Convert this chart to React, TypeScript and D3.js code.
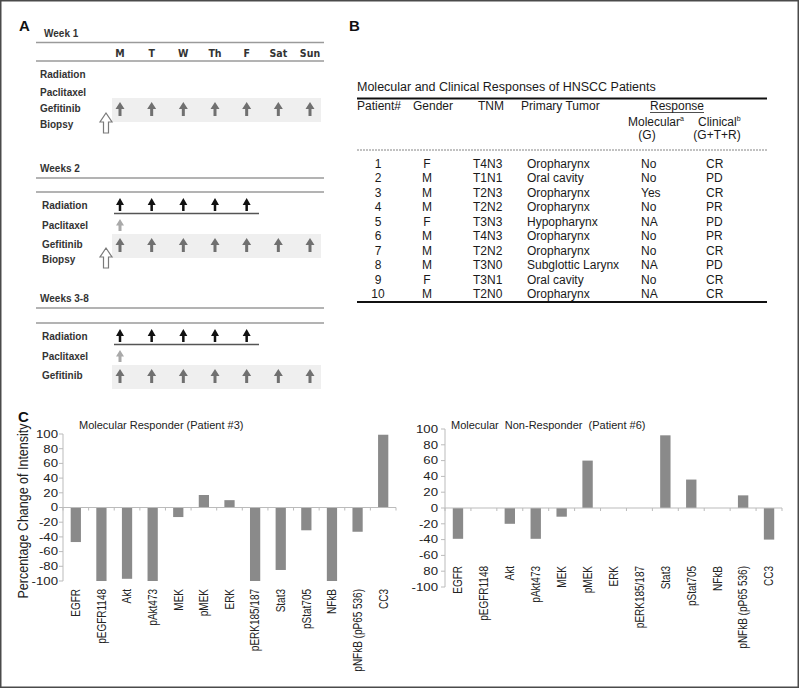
import React from "react";
import * as d3 from "d3";

// ---------- Panel A data ----------
const days = ["M", "T", "W", "Th", "F", "Sat", "Sun"];
const weekLabels = ["Week 1", "Weeks 2", "Weeks 3-8"];
const radiationDays = [[], ["M", "T", "W", "Th", "F"], ["M", "T", "W", "Th", "F"]];
const paclitaxelDays = [[], ["M"], ["M"]];
const gefitinibDays = [days, days, days];
const biopsyWeeks = [true, true, false];

// ---------- Panel B data ----------
const tableTitle = "Molecular and Clinical Responses of HNSCC Patients";
const patientIds = ["1", "2", "3", "4", "5", "6", "7", "8", "9", "10"];
const genders = ["F", "M", "M", "M", "F", "M", "M", "M", "F", "M"];
const tnmStages = ["T4N3", "T1N1", "T2N3", "T2N2", "T3N3", "T4N3", "T2N2", "T3N0", "T3N1", "T2N0"];
const primaryTumors = ["Oropharynx", "Oral cavity", "Oropharynx", "Oropharynx", "Hypopharynx", "Oropharynx", "Oropharynx", " Subglottic Larynx", "Oral cavity", "Oropharynx"];
const molecularResponses = ["No", "No", "Yes", "No", "NA", "No", "No", " NA", "No", " NA"];
const clinicalResponses = ["CR", "PD", "CR", "PR", "PD", "PR", "CR", "PD", "CR", "CR"];

// ---------- Panel C data ----------
const markers = ["EGFR", "pEGFR1148", "Akt", "pAkt473", "MEK", "pMEK", "ERK", "pERK185/187", "Stat3", "pStat705", "NFkB", "pNFkB (pP65 536)", "CC3"];
const responderValues = [-47, -100, -97, -100, -13, 17, 10, -100, -85, -31, -100, -33, 99];
const nonResponderValues = [-39, 0, -20, -39, -11, 60, 0, 0, 92, 36, 0, 16, -40];
const yTickValues = [100, 80, 60, 40, 20, 0, -20, -40, -60, -80, -100];
const yTickLabelsLeft = ["100", "80", "60", "40", "20", "0", "-20", "-40", "-60", "-80", "-100"];
const yTickLabelsRight = ["100", "80", "60", "40", "20", "0", "-20", "-40", "-60", "80", "-100"];

const FONT = "'Liberation Sans', Arial, Helvetica, sans-serif";
const NARROW = "'Liberation Sans Narrow', 'DejaVu Sans Condensed', 'Liberation Sans', Arial, sans-serif";

function arrowPath(cx: number, top: number, bottom: number, hw: number, hh: number, sw: number) {
  return `M${cx},${top}L${cx + hw / 2},${top + hh}L${cx + sw / 2},${top + hh}L${cx + sw / 2},${bottom}L${cx - sw / 2},${bottom}L${cx - sw / 2},${top + hh}L${cx - hw / 2},${top + hh}Z`;
}

const dayX = d3.scalePoint<string>().domain(days).range([120, 310]);

// layout per week block
const weekLayout = [
  { labelX: 44, labelY: 37, lines: [42.5, 61], dayRowY: 57, rad: 78, pac: 96, gef: 112, bio: 128, labX: 40 },
  { labelX: 40, labelY: 172, lines: [178, 192], dayRowY: null, rad: 209, pac: 229, gef: 248, bio: 263, labX: 42 },
  { labelX: 40, labelY: 302, lines: [308, 323], dayRowY: null, rad: 340, pac: 360, gef: 379, bio: 0, labX: 42 },
];

function PanelA() {
  return (
    <g>
      <text x={19} y={31} fontFamily={FONT} fontWeight="bold" fontSize={15} fill="#111">A</text>
      {weekLabels.map((wl, wi) => {
        const L = weekLayout[wi];
        return (
          <g key={wl}>
            <text x={L.labelX} y={L.labelY} fontFamily={FONT} fontWeight="bold" fontSize={10} fill="#333">{wl}</text>
            {L.lines.map((ly, i) => (
              <line key={i} x1={36} x2={324} y1={ly} y2={ly} stroke="#9a9a9a" strokeWidth={1.5} />
            ))}
            {L.dayRowY !== null && days.map((d) => (
              <text key={d} x={dayX(d)} y={L.dayRowY as number} textAnchor="middle" fontFamily={NARROW} fontWeight="bold" fontSize={10.5} fill="#333">{d}</text>
            ))}
            <text x={L.labX} y={L.rad} fontFamily={FONT} fontWeight="bold" fontSize={10} fill="#333">Radiation</text>
            <text x={L.labX} y={L.pac} fontFamily={FONT} fontWeight="bold" fontSize={10} fill="#333">Paclitaxel</text>
            <rect x={112} y={L.gef - 14} width={209} height={24} fill="#efefef" />
            <text x={L.labX} y={L.gef} fontFamily={FONT} fontWeight="bold" fontSize={10} fill="#333">Gefitinib</text>
            {biopsyWeeks[wi] && (
              <text x={L.labX} y={L.bio} fontFamily={FONT} fontWeight="bold" fontSize={10} fill="#333">Biopsy</text>
            )}
            {radiationDays[wi].map((d) => (
              <path key={"r" + d} d={arrowPath(dayX(d) as number, L.rad - 11, L.rad + 2, 8, 7, 2.5)} fill="#111" />
            ))}
            {radiationDays[wi].length > 0 && (
              <line x1={114} x2={259} y1={L.rad + 4.5} y2={L.rad + 4.5} stroke="#555" strokeWidth={1.3} />
            )}
            {paclitaxelDays[wi].map((d) => (
              <path key={"p" + d} d={arrowPath(dayX(d) as number, L.pac - 10, L.pac + 2, 8, 6.5, 3)} fill="#a9a9a9" />
            ))}
            {gefitinibDays[wi].map((d) => (
              <path key={"g" + d} d={arrowPath(dayX(d) as number, L.gef - 10, L.gef + 4, 9, 7, 3)} fill="#707070" />
            ))}
            {biopsyWeeks[wi] && (
              <path d={arrowPath(106, L.bio - 15, L.bio + 5, 12, 9, 5)} fill="#fff" stroke="#7a7a7a" strokeWidth={1.2} />
            )}
          </g>
        );
      })}
    </g>
  );
}

function PanelB() {
  const rowY = (i: number) => 168 + i * 14.44;
  const fs = 12;
  return (
    <g fontFamily={FONT} fill="#1a1a1a" style={{ whiteSpace: "pre" }}>
      <text x={349} y={31} fontWeight="bold" fontSize={15} fill="#111">B</text>
      <text x={357} y={91} fontSize={12.5}>{tableTitle}</text>
      <line x1={357} x2={767} y1={98.5} y2={98.5} stroke="#111" strokeWidth={2} />
      <text x={357} y={110} fontSize={fs}>Patient#</text>
      <text x={413} y={110} fontSize={fs}>Gender</text>
      <text x={478} y={110} fontSize={fs}>TNM</text>
      <text x={521} y={110} fontSize={fs}>Primary Tumor</text>
      <text x={677} y={110} fontSize={fs} textAnchor="middle">Response</text>
      <line x1={650} x2={704} y1={112.5} y2={112.5} stroke="#222" strokeWidth={0.8} />
      <text x={628} y={125.5} fontSize={fs}>Molecular<tspan fontSize={7} dy={-4.5}>a</tspan></text>
      <text x={698} y={125.5} fontSize={fs}>Clinical<tspan fontSize={7} dy={-4.5}>b</tspan></text>
      <text x={647} y={139} fontSize={fs} textAnchor="middle">(G)</text>
      <text x={717} y={139} fontSize={fs} textAnchor="middle">(G+T+R)</text>
      <line x1={357} x2={767} y1={150} y2={150} stroke="#666" strokeWidth={0.8} strokeDasharray="2,1" />
      {patientIds.map((p, i) => (
        <g key={p}>
          <text x={378} y={rowY(i)} fontSize={fs} textAnchor="middle">{p}</text>
          <text x={427} y={rowY(i)} fontSize={fs} textAnchor="middle">{genders[i]}</text>
          <text x={473} y={rowY(i)} fontSize={fs}>{tnmStages[i]}</text>
          <text x={527} y={rowY(i)} fontSize={fs}>{primaryTumors[i]}</text>
          <text x={641} y={rowY(i)} fontSize={fs}>{molecularResponses[i]}</text>
          <text x={706} y={rowY(i)} fontSize={fs}>{clinicalResponses[i]}</text>
        </g>
      ))}
      <line x1={357} x2={767} y1={302} y2={302} stroke="#111" strokeWidth={2} />
    </g>
  );
}

function BarChart(props: {
  values: number[];
  tickLabels: string[];
  x0: number;
  x1: number;
  yTop: number;
  yBottom: number;
  tickLabelX: number;
  labelStartY: number;
  title: string;
  titleX: number;
  titleY: number;
}) {
  const { values, tickLabels, x0, x1, yTop, yBottom, tickLabelX, labelStartY, title, titleX, titleY } = props;
  const x = d3.scaleBand<string>().domain(markers).range([x0, x1]).paddingInner(0.6).paddingOuter(0.3);
  const y = d3.scaleLinear().domain([-100, 100]).range([yBottom, yTop]);
  const boundaries = d3.range(markers.length + 1).map((i) => x0 + (i * (x1 - x0)) / markers.length);
  return (
    <g fontFamily={FONT}>
      <text x={titleX} y={titleY} fontSize={11} fill="#222" style={{ whiteSpace: "pre" }}>{title}</text>
      <line x1={x0} x2={x0} y1={yTop} y2={yBottom} stroke="#bbb" strokeWidth={1} />
      {yTickValues.map((v, i) => (
        <g key={v}>
          <line x1={x0 - 4} x2={x0} y1={y(v)} y2={y(v)} stroke="#bbb" />
          <text
            transform={`translate(${tickLabelX},${y(v)}) scale(1.2,1)`}
            dy="0.35em"
            textAnchor="end"
            fontSize={11}
            fill="#222"
          >
            {tickLabels[i]}
          </text>
        </g>
      ))}
      {markers.map((m, i) => {
        const v = values[i];
        if (v === 0) return null;
        const top = y(Math.max(0, v));
        const bot = y(Math.min(0, v));
        return <rect key={m} x={x(m)} y={top} width={x.bandwidth()} height={bot - top} fill="#8a8a8a" />;
      })}
      <line x1={x0} x2={x1} y1={y(0)} y2={y(0)} stroke="#bbb" strokeWidth={1} />
      {boundaries.map((b, i) => (
        <line key={i} x1={b} x2={b} y1={y(0)} y2={y(0) + 3} stroke="#bbb" />
      ))}
      {markers.map((m) => (
        <text
          key={m}
          transform={`translate(${(x(m) as number) + x.bandwidth() / 2},${labelStartY}) rotate(-90) scale(1,1.25)`}
          textAnchor="end"
          dy="0.35em"
          fontSize={10}
          fill="#222"
        >
          {m}
        </text>
      ))}
    </g>
  );
}

function PanelC() {
  return (
    <g>
      <text x={18} y={422} fontFamily={FONT} fontWeight="bold" fontSize={15} fill="#111">C</text>
      <text
        transform="translate(23,511) rotate(-90) scale(1,1.2)"
        textAnchor="middle"
        dy="0.35em"
        fontFamily={FONT}
        fontSize={12.5}
        fill="#222"
      >
        Percentage Change of Intensity
      </text>
      <BarChart
        values={responderValues}
        tickLabels={yTickLabelsLeft}
        x0={63}
        x1={396}
        yTop={434}
        yBottom={581}
        tickLabelX={58}
        labelStartY={589}
        title="Molecular Responder (Patient #3)"
        titleX={79}
        titleY={429}
      />
      <BarChart
        values={nonResponderValues}
        tickLabels={yTickLabelsRight}
        x0={445}
        x1={782}
        yTop={429}
        yBottom={587}
        tickLabelX={438}
        labelStartY={566}
        title="Molecular  Non-Responder  (Patient #6)"
        titleX={451}
        titleY={429}
      />
    </g>
  );
}

export default function App() {
  return (
    <svg
      width={800}
      height={689}
      viewBox="0 0 800 689"
      style={{ position: "absolute", left: 0, top: 0, background: "#fff" }}
    >
      <rect x={0} y={0} width={800} height={689} fill="#fff" />
      <rect x={0.75} y={0.75} width={797.5} height={686.5} fill="none" stroke="#4a4a4a" strokeWidth={1.5} />
      <PanelA />
      <PanelB />
      <PanelC />
    </svg>
  );
}
